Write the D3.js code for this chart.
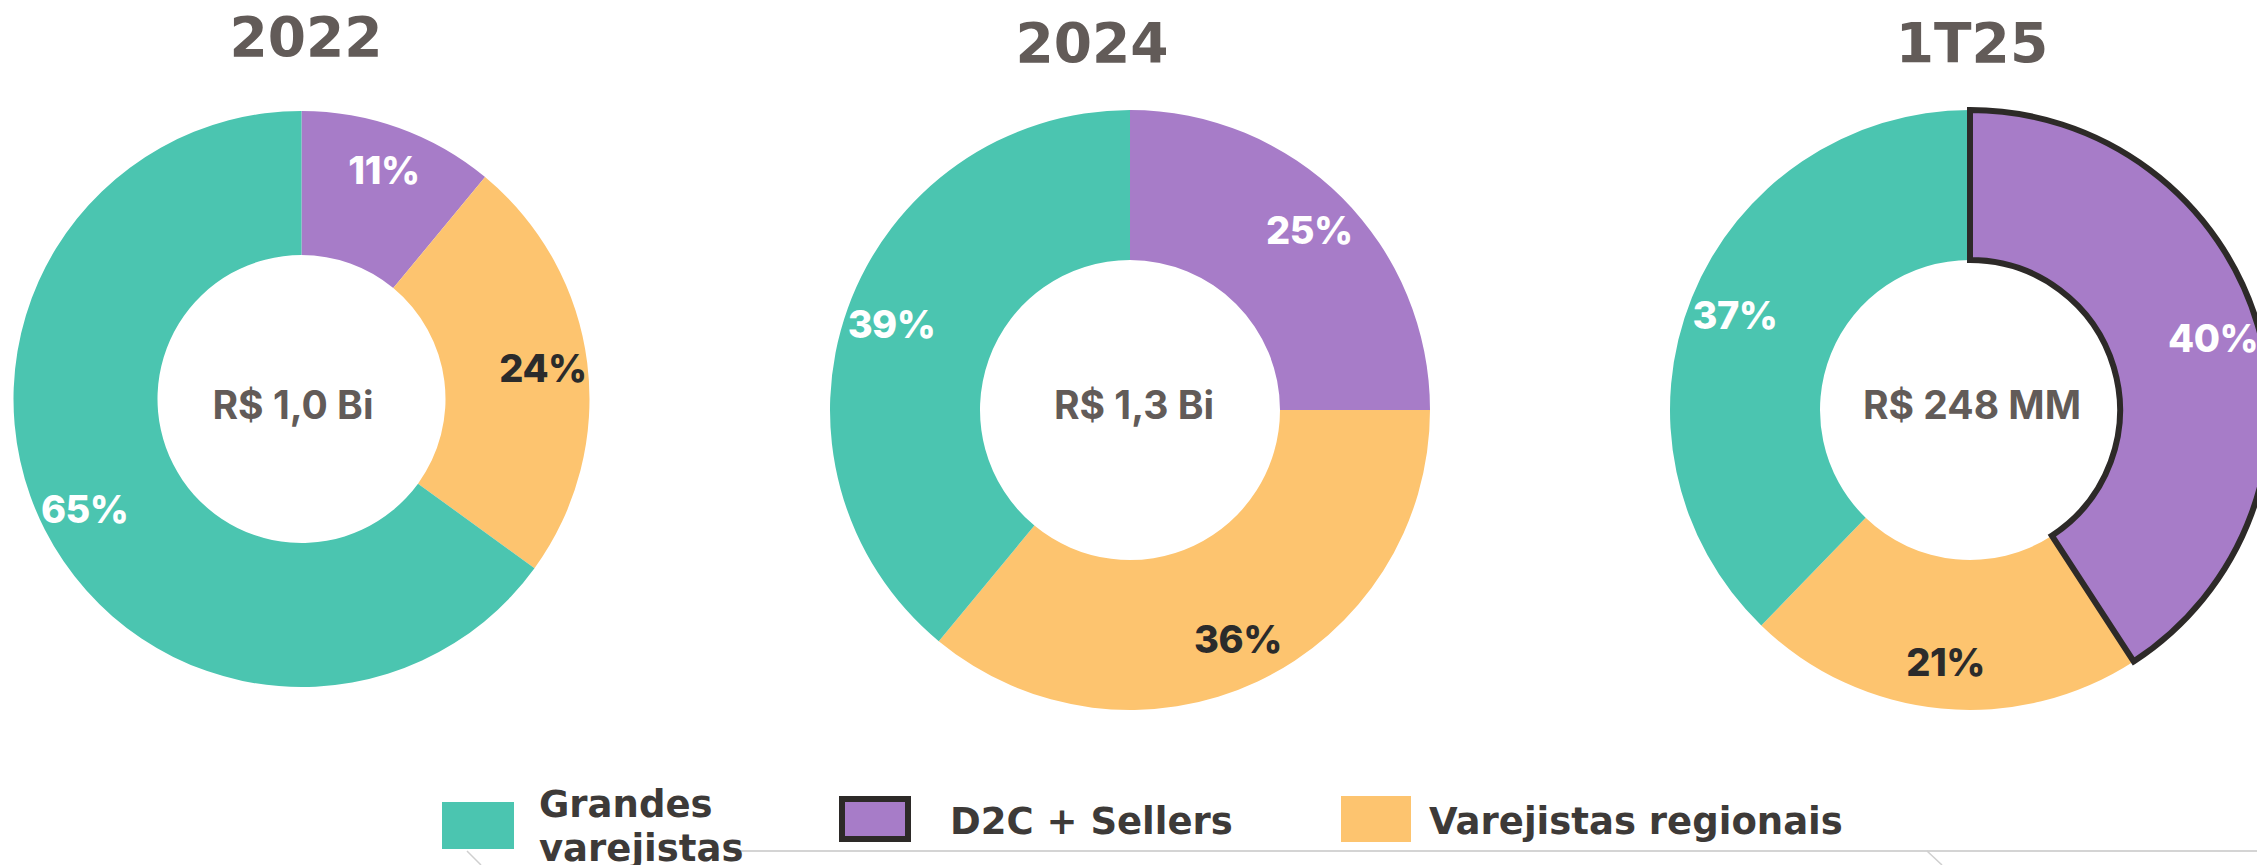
<!DOCTYPE html>
<html>
<head>
<meta charset="utf-8">
<script src="https://cdn.jsdelivr.net/npm/d3@7"></script>
<style>
  html, body { margin: 0; padding: 0; background: #fff; overflow: hidden; }
  svg { display: block; }
</style>
</head>
<body>
<div id="chart"></div>
<script>
//data
var categories = ["Grandes varejistas", "D2C + Sellers", "Varejistas regionais"];
var periods = ["2022", "2024", "1T25"];
var totals = ["R$ 1,0 Bi", "R$ 1,3 Bi", "R$ 248 MM"];
var grandes = [65, 39, 37];
var d2c = [11, 25, 40];
var regionais = [24, 36, 21];

var colors = {"Grandes varejistas": "#4bc5b0", "D2C + Sellers": "#a77cc8", "Varejistas regionais": "#fdc46f"};
var labelColors = {"Grandes varejistas": "#ffffff", "D2C + Sellers": "#ffffff", "Varejistas regionais": "#2b2b2b"};

//layout
var width = 2257, height = 865;
var centersX = [301.5, 1130, 1970], centersY = [399, 410, 410], radii = [288, 300, 300];
var titleX = [306, 1092, 1972], titleY = [56, 62, 62];
var totalX = [293, 1134, 1972];
var textFont = "Inter, 'Open Sans', sans-serif";
var titleFont = "'DejaVu Sans', Verdana, sans-serif";

var svg = d3.select("#chart").append("svg").attr("width", width).attr("height", height);

var pie = d3.pie().sort(null).value(function(d){ return d.value; });

periods.forEach(function(p, i){
    //clockwise from top: D2C, regionais, grandes
    var rows = [
        {cat: categories[1], value: d2c[i]},
        {cat: categories[2], value: regionais[i]},
        {cat: categories[0], value: grandes[i]}
    ];
    var R = radii[i];
    var arc = d3.arc().innerRadius(R * 0.5).outerRadius(R);
    var labelArc = d3.arc().innerRadius(R * 0.845).outerRadius(R * 0.845);
    var g = svg.append("g").attr("transform", "translate(" + centersX[i] + "," + centersY[i] + ")");
    var arcs = pie(rows);

    g.selectAll("path.slice")
        .data(arcs)
        .enter().append("path")
        .attr("class", "slice")
        .attr("d", arc)
        .attr("fill", function(d){ return colors[d.data.cat]; });

    //last period: highlight D2C slice
    if (i == periods.length - 1){
        g.append("path")
            .attr("d", arc(arcs[0]))
            .attr("fill", "none")
            .attr("stroke", "#2d2a28")
            .attr("stroke-width", 6)
            .attr("stroke-linejoin", "miter");
    }

    g.selectAll("text.pct")
        .data(arcs)
        .enter().append("text")
        .attr("class", "pct")
        .attr("transform", function(d){ return "translate(" + labelArc.centroid(d) + ")"; })
        .attr("text-anchor", "middle")
        .attr("dy", "0.36em")
        .style("font-family", textFont)
        .style("font-weight", 800)
        .style("font-size", "38px")
        .style("letter-spacing", "-0.5px")
        .attr("fill", function(d){ return labelColors[d.data.cat]; })
        .text(function(d){ return d.data.value + "%"; });

    //total in the hole
    svg.append("text")
        .attr("x", totalX[i])
        .attr("y", 419)
        .attr("text-anchor", "middle")
        .style("font-family", textFont)
        .style("font-weight", 700)
        .style("font-size", "39px")
        .attr("fill", "#625b58")
        .text(totals[i]);

    //title
    svg.append("text")
        .attr("x", titleX[i])
        .attr("y", titleY[i])
        .attr("text-anchor", "middle")
        .style("font-family", titleFont)
        .style("font-weight", 700)
        .style("font-size", "55px")
        .attr("fill", "#625b58")
        .text(p);
});

//faint line from the slide below
svg.append("line").attr("x1", 740).attr("x2", width).attr("y1", 851).attr("y2", 851)
    .attr("stroke", "#d4d4d4").attr("stroke-width", 2);
svg.append("line").attr("x1", 467).attr("x2", 481).attr("y1", 851).attr("y2", 865)
    .attr("stroke", "#cfcfcf").attr("stroke-width", 1.5);
svg.append("line").attr("x1", 1927).attr("x2", 1942).attr("y1", 851).attr("y2", 865)
    .attr("stroke", "#cfcfcf").attr("stroke-width", 1.5);

//legend
var legend = [
    {cat: categories[0], x: 442, y: 802, w: 72, h: 47, tx: 539, lines: ["Grandes", "varejistas"], ty: 817},
    {cat: categories[1], x: 842, y: 799, w: 66, h: 40, tx: 950, lines: ["D2C + Sellers"], ty: 834},
    {cat: categories[2], x: 1341, y: 796, w: 70, h: 46, tx: 1429, lines: ["Varejistas regionais"], ty: 834}
];
legend.forEach(function(l){
    var r = svg.append("rect").attr("x", l.x).attr("y", l.y).attr("width", l.w).attr("height", l.h)
        .attr("fill", colors[l.cat]);
    if (l.cat == categories[1]) r.attr("stroke", "#2d2a28").attr("stroke-width", 6);
    var t = svg.append("text")
        .attr("x", l.tx).attr("y", l.ty)
        .style("font-family", titleFont)
        .style("font-weight", 700)
        .style("font-size", "37px")
        .attr("fill", "#3d3a38");
    l.lines.forEach(function(s, k){
        t.append("tspan").attr("x", l.tx).attr("dy", k == 0 ? 0 : 44).text(s);
    });
});
</script>
</body>
</html>
